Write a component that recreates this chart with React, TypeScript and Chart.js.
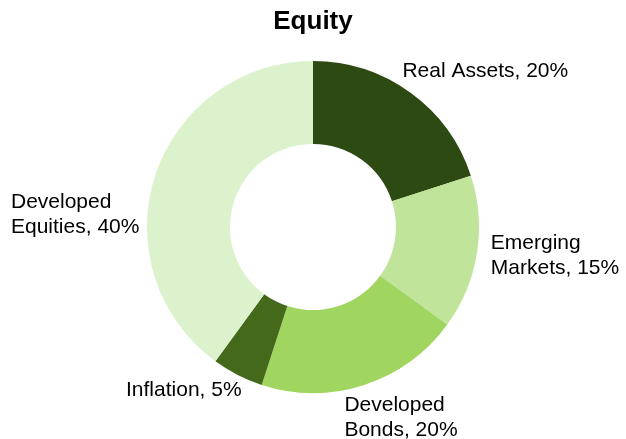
import React, { useEffect, useRef } from "react";
import { Chart, registerables } from "chart.js";

Chart.register(...registerables);

// ---- data ----
const categories = ["Real Assets", "Emerging Markets", "Developed Bonds", "Inflation", "Developed Equities"];
const categoryLines = [["Real Assets"], ["Emerging", "Markets"], ["Developed", "Bonds"], ["Inflation"], ["Developed", "Equities"]];
const values = [20, 15, 20, 5, 40];
const sliceColors = ["#2d4a12", "#c1e49b", "#a0d65f", "#44691b", "#dcf2cc"];
const chartTitle = "Equity";

// label placement nudges (px) relative to the rule-based outside position
const LABEL_NUDGE: [number, number][] = [
  [-14, -5],
  [4, -4],
  [-23, -2],
  [8.5, -6.5],
  [-6.2, 47.6],
];

const FONT_FAMILY = "'Liberation Sans', Arial, sans-serif";
const LABEL_SIZE = 21;
const LINE_H = 25;

const outsideLabels = {
  id: "outsideLabels",
  afterDatasetsDraw(chart: any) {
    const ctx = chart.ctx as CanvasRenderingContext2D;
    const meta = chart.getDatasetMeta(0);
    ctx.save();
    ctx.font = `${LABEL_SIZE}px ${FONT_FAMILY}`;
    ctx.fillStyle = "#000000";
    ctx.textAlign = "left";
    ctx.textBaseline = "alphabetic";
    meta.data.forEach((arc: any, i: number) => {
      const p = arc.getProps(["x", "y", "startAngle", "endAngle", "outerRadius"], true);
      const mid = (p.startAngle + p.endAngle) / 2;
      const r = p.outerRadius + 10;
      const ax = p.x + Math.cos(mid) * r;
      const ay = p.y + Math.sin(mid) * r;
      const lines = categoryLines[i].slice();
      lines[lines.length - 1] = `${lines[lines.length - 1]}, ${values[i]}%`;
      const w = Math.max(...lines.map((l) => ctx.measureText(l).width));
      const h = lines.length * LINE_H;
      const c = Math.cos(mid);
      let left: number;
      if (c > 0.1) left = ax;
      else if (c < -0.1) left = ax - w;
      else left = ax - w / 2;
      const cy = ay + Math.sin(mid) * (h / 2);
      const [dx, dy] = LABEL_NUDGE[i];
      lines.forEach((line, k) => {
        const lineCenter = cy - h / 2 + LINE_H / 2 + k * LINE_H + dy;
        ctx.fillText(line, left + dx, lineCenter + 0.358 * LABEL_SIZE);
      });
    });
    ctx.restore();
  },
};

export default function App() {
  const ref = useRef<HTMLCanvasElement | null>(null);
  useEffect(() => {
    if (!ref.current) return;
    const chart = new Chart(ref.current, {
      type: "doughnut",
      data: {
        labels: categories,
        datasets: [
          {
            data: values,
            backgroundColor: sliceColors,
            borderWidth: 0,
            hoverOffset: 0,
            offset: 0,
          },
        ],
      },
      options: {
        responsive: false,
        animation: false,
        cutout: "50%",
        layout: { padding: { top: 0, bottom: 46, left: 0, right: 0 } },
        plugins: {
          legend: { display: false },
          tooltip: { enabled: false },
          title: {
            display: true,
            text: chartTitle,
            color: "#000000",
            font: { family: FONT_FAMILY, size: 26, weight: "bold" },
            padding: { top: 6.4, bottom: 23.4 },
          },
        },
      },
      plugins: [outsideLabels],
    });
    return () => chart.destroy();
  }, []);
  return (
    <div style={{ position: "fixed", left: 0, top: 0, width: 626, height: 439, background: "#fff" }}>
      <canvas ref={ref} width={626} height={439} style={{ display: "block" }} />
    </div>
  );
}
